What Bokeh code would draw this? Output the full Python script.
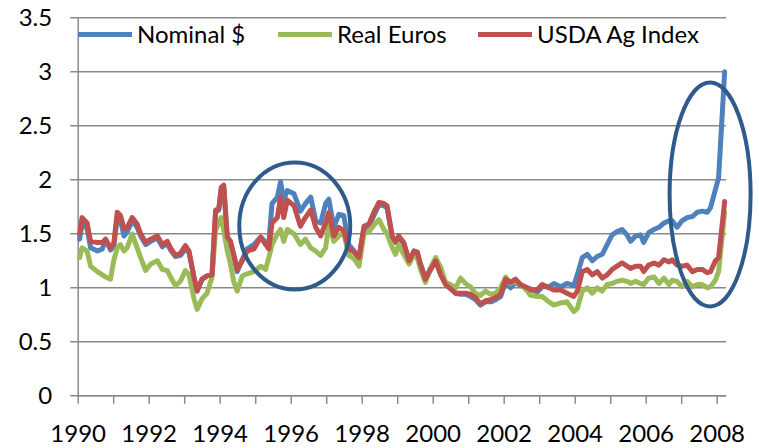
from bokeh.plotting import figure
from bokeh.models import Range1d
from bokeh.core.properties import value
from bokeh.embed import file_html
from bokeh.resources import INLINE

# ---------------- data ----------------
dates = [1990.04, 1990.11, 1990.25, 1990.35, 1990.54, 1990.68, 1990.77, 1990.91,
         1991.00, 1991.10, 1991.19, 1991.29, 1991.38, 1991.52, 1991.66, 1991.76, 1991.90,
         1992.04, 1992.23, 1992.37, 1992.51, 1992.60, 1992.74, 1992.88,
         1993.02, 1993.12, 1993.26, 1993.35, 1993.49, 1993.63, 1993.77, 1993.87, 1993.96,
         1994.03, 1994.10, 1994.20, 1994.29, 1994.38, 1994.48, 1994.62, 1994.76, 1994.95,
         1995.14, 1995.28, 1995.37, 1995.46, 1995.61, 1995.70, 1995.79, 1995.89,
         1996.08, 1996.26, 1996.40, 1996.55, 1996.69, 1996.83, 1996.97,
         1997.06, 1997.20, 1997.34, 1997.48, 1997.62, 1997.77, 1997.91,
         1998.05, 1998.19, 1998.33, 1998.47, 1998.61, 1998.70, 1998.85, 1998.94,
         1999.03, 1999.17, 1999.32, 1999.46, 1999.55, 1999.64, 1999.78, 1999.93,
         2000.07, 2000.21, 2000.35, 2000.49, 2000.63, 2000.77, 2000.91,
         2001.05, 2001.19, 2001.33, 2001.47, 2001.62, 2001.76, 2001.90,
         2002.04, 2002.18, 2002.32, 2002.46, 2002.65, 2002.74, 2002.93,
         2003.07, 2003.26, 2003.40, 2003.59, 2003.77, 2003.96,
         2004.06, 2004.20, 2004.34, 2004.48, 2004.62, 2004.76, 2004.90,
         2005.04, 2005.18, 2005.32, 2005.46, 2005.56, 2005.70, 2005.84, 2005.93,
         2006.07, 2006.22, 2006.36, 2006.50, 2006.64, 2006.73, 2006.87,
         2007.01, 2007.15, 2007.30, 2007.44, 2007.58, 2007.72, 2007.81, 2007.95,
         2008.04, 2008.21]

nominal_usd = [1.45, 1.59, 1.55, 1.37, 1.34, 1.36, 1.45, 1.35,
               1.38, 1.65, 1.63, 1.48, 1.52, 1.62, 1.56, 1.48, 1.40,
               1.43, 1.46, 1.38, 1.41, 1.35, 1.29, 1.30,
               1.36, 1.33, 1.10, 0.97, 1.08, 1.11, 1.12, 1.70, 1.72,
               1.92, 1.93, 1.45, 1.41, 1.30, 1.15, 1.26, 1.36, 1.40,
               1.47, 1.42, 1.42, 1.78, 1.84, 1.98, 1.81, 1.90,
               1.87, 1.71, 1.78, 1.84, 1.62, 1.60, 1.78,
               1.82, 1.56, 1.68, 1.67, 1.40, 1.34, 1.28,
               1.55, 1.57, 1.67, 1.77, 1.76, 1.74, 1.46, 1.42,
               1.47, 1.41, 1.25, 1.34, 1.33, 1.22, 1.09, 1.18,
               1.25, 1.13, 1.04, 1.00, 0.95, 0.94, 0.94,
               0.92, 0.89, 0.84, 0.87, 0.87, 0.89, 0.92,
               1.05, 1.00, 1.05, 1.02, 1.00, 0.99, 0.96,
               1.01, 1.01, 1.04, 1.01, 1.04, 1.02,
               1.12, 1.28, 1.31, 1.25, 1.29, 1.31, 1.40,
               1.49, 1.52, 1.54, 1.49, 1.43, 1.48, 1.49, 1.42,
               1.51, 1.54, 1.56, 1.60, 1.62, 1.62, 1.56,
               1.62, 1.65, 1.66, 1.70, 1.71, 1.70, 1.74, 1.91,
               2.02, 3.00]

real_euros = [1.28, 1.37, 1.34, 1.20, 1.15, 1.12, 1.10, 1.08,
              1.25, 1.37, 1.40, 1.34, 1.37, 1.50, 1.37, 1.28, 1.16,
              1.22, 1.25, 1.17, 1.16, 1.10, 1.02, 1.06,
              1.16, 1.12, 0.90, 0.80, 0.90, 0.95, 1.10, 1.53, 1.60,
              1.65, 1.53, 1.34, 1.22, 1.06, 0.97, 1.11, 1.13, 1.15,
              1.20, 1.17, 1.28, 1.40, 1.50, 1.54, 1.43, 1.54,
              1.50, 1.40, 1.45, 1.37, 1.34, 1.30, 1.37,
              1.59, 1.43, 1.48, 1.51, 1.30, 1.27, 1.20,
              1.50, 1.52, 1.58, 1.63, 1.54, 1.50, 1.37, 1.31,
              1.40, 1.31, 1.22, 1.31, 1.28, 1.17, 1.05, 1.19,
              1.28, 1.19, 1.05, 1.03, 1.00, 1.09, 1.04,
              1.01, 0.95, 0.93, 0.97, 0.94, 0.95, 1.00,
              1.10, 1.04, 1.06, 1.03, 0.97, 0.93, 0.92,
              0.92, 0.87, 0.84, 0.86, 0.87, 0.78,
              0.81, 0.97, 1.00, 0.95, 1.00, 0.97, 1.03,
              1.04, 1.06, 1.07, 1.06, 1.04, 1.06, 1.04, 1.03,
              1.09, 1.10, 1.04, 1.09, 1.03, 1.07, 1.06,
              1.01, 1.06, 1.01, 1.03, 1.03, 1.00, 1.01, 1.07,
              1.15, 1.70]

usda_ag_index = [1.50, 1.65, 1.60, 1.43, 1.42, 1.42, 1.45, 1.37,
                 1.40, 1.70, 1.67, 1.55, 1.56, 1.65, 1.59, 1.50, 1.42,
                 1.45, 1.48, 1.40, 1.43, 1.37, 1.30, 1.32,
                 1.39, 1.34, 1.10, 0.97, 1.08, 1.11, 1.12, 1.72, 1.73,
                 1.93, 1.95, 1.47, 1.43, 1.31, 1.17, 1.25, 1.34, 1.36,
                 1.47, 1.40, 1.36, 1.60, 1.65, 1.84, 1.65, 1.81,
                 1.76, 1.57, 1.65, 1.72, 1.56, 1.48, 1.60,
                 1.70, 1.48, 1.56, 1.53, 1.36, 1.33, 1.28,
                 1.57, 1.59, 1.70, 1.79, 1.78, 1.76, 1.47, 1.43,
                 1.48, 1.42, 1.25, 1.34, 1.33, 1.22, 1.08, 1.17,
                 1.25, 1.12, 1.03, 0.99, 0.95, 0.95, 0.95,
                 0.94, 0.91, 0.85, 0.88, 0.89, 0.91, 0.94,
                 1.08, 1.05, 1.08, 1.03, 1.00, 0.98, 0.98,
                 1.03, 1.00, 0.98, 0.98, 0.95, 0.92,
                 0.97, 1.15, 1.17, 1.12, 1.15, 1.09, 1.12,
                 1.17, 1.20, 1.23, 1.20, 1.18, 1.20, 1.20, 1.15,
                 1.21, 1.23, 1.21, 1.26, 1.24, 1.26, 1.21,
                 1.20, 1.21, 1.15, 1.17, 1.17, 1.14, 1.15, 1.25,
                 1.28, 1.80]

series_names = ["Nominal $", "Real Euros", "USDA Ag Index"]
series_colors = ["#4F81BD", "#9BBB59", "#C0504D"]

year_labels = list(range(1990, 2009, 2))
year_ticks = list(range(1990, 2009))
y_ticks = [0, 0.5, 1, 1.5, 2, 2.5, 3, 3.5]
y_tick_labels = ["0", "0.5", "1", "1.5", "2", "2.5", "3", "3.5"]
axis_start = 1990.0
axis_end = 2008.25

# highlight ellipses (centre in data units, size in pixels)
ell_x = [1996.10, 2007.80]
ell_y = [1.572, 1.864]
ell_w = [111, 81]
ell_h = [127, 224]

# ---------------- layout constants (pixels) ----------------
W, H = 759, 448
PX_PER_YEAR = 35.5
PX_PER_UNIT = 108.0
X0_PX = 77.7       # canvas x of 1990
Y0_PX = 395.3      # canvas y of value 0

x_start = axis_start - X0_PX / PX_PER_YEAR
x_end = x_start + W / PX_PER_YEAR
y_start = -(H - Y0_PX) / PX_PER_UNIT
y_end = 3.5 + 17.3 / PX_PER_UNIT

xtick_len = 8 / PX_PER_UNIT
ytick_len = 8 / PX_PER_YEAR
xlabel_mid = -(433.3 - Y0_PX) / PX_PER_UNIT
ylabel_right = axis_start - (X0_PX - 51.7) / PX_PER_YEAR

GRID = "#898989"
FONT = "Lato"

p = figure(width=W, height=H, output_backend="svg", toolbar_location=None,
           x_range=Range1d(x_start, x_end), y_range=Range1d(y_start, y_end),
           min_border_left=0, min_border_right=0, min_border_top=0, min_border_bottom=0)
p.outline_line_color = None
p.xgrid.visible = False
p.ygrid.visible = False
p.xaxis.visible = False
p.yaxis.visible = False

n_y = len(y_ticks)
# horizontal gridlines that stop at the end of the category axis
p.segment(x0=[axis_start] * n_y, y0=y_ticks, x1=[axis_end] * n_y, y1=y_ticks,
          line_color=GRID, line_width=1.5)
# vertical axis line and its ticks
p.segment(x0=[axis_start], y0=[0], x1=[axis_start], y1=[3.5], line_color=GRID, line_width=1.5)
p.segment(x0=[axis_start - ytick_len] * n_y, y0=y_ticks, x1=[axis_start] * n_y, y1=y_ticks,
          line_color=GRID, line_width=1.5)
# y labels
p.text(x=[ylabel_right] * n_y, y=y_ticks, text=y_tick_labels,
       text_font=value(FONT), text_font_size=value("24px"), text_color="#000000",
       text_align="right", text_baseline="middle")
# year tick marks below the baseline
p.segment(x0=year_ticks, y0=[0] * len(year_ticks), x1=year_ticks,
          y1=[-xtick_len] * len(year_ticks), line_color=GRID, line_width=1.5)
# year labels
p.text(x=year_labels, y=[xlabel_mid] * len(year_labels), text=[str(v) for v in year_labels],
       text_font=value(FONT), text_font_size=value("24px"), text_color="#000000",
       text_align="center", text_baseline="middle")

lines = [nominal_usd, real_euros, usda_ag_index]
for vals, name, col in zip(lines, series_names, series_colors):
    p.line(dates, vals, line_color=col, line_width=5, line_join="round",
           line_cap="round", legend_label=name)

p.ellipse(x=ell_x, y=ell_y, width=ell_w, height=ell_h, width_units="screen",
          height_units="screen", fill_color=None, line_color="#2F5B8C", line_width=4)

# x-axis baseline ending with the categories
p.segment(x0=[axis_start], y0=[0], x1=[axis_end], y1=[0], line_color=GRID, line_width=1.5)

# legend
lg = p.legend[0]
lg.orientation = "horizontal"
lg.location = (78, 400)
lg.margin = 0
lg.padding = 0
lg.spacing = 29
lg.glyph_width = 54
lg.label_standoff = 5
lg.label_width = 112
lg.label_text_font = FONT
lg.label_text_font_size = "24px"
lg.label_text_color = "#000000"
lg.border_line_color = None
lg.background_fill_alpha = 0

open("out.html", "w").write(file_html(p, INLINE))
